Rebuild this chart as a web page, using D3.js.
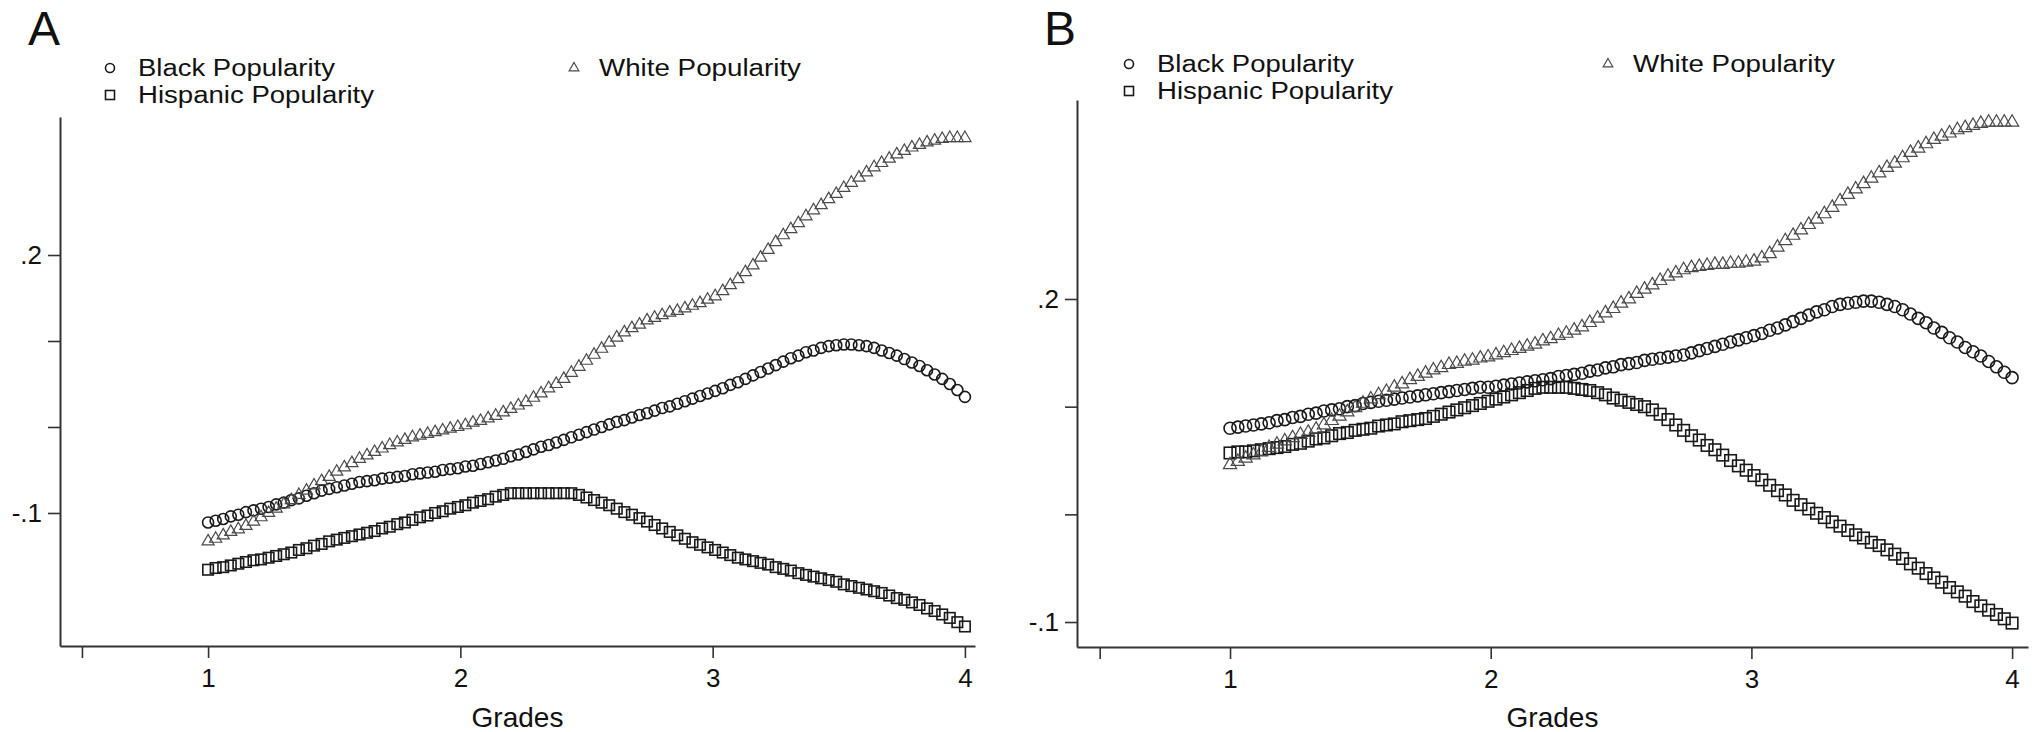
<!DOCTYPE html>
<html>
<head>
<meta charset="utf-8">
<script src="https://cdn.jsdelivr.net/npm/d3@7"></script>
<style>
  body { margin: 0; background: #fff; }
  svg { display: block; }
  text { font-family: "Liberation Sans", Arial, Helvetica, sans-serif; fill: #111; }
</style>
</head>
<body>
<svg id="chart" width="2036" height="732"></svg>
<script>
// Grade values at which each popularity curve is evaluated
const grades = [
  1.00,1.03,1.06,1.09,1.12,1.15,1.18,1.21,1.24,1.27,
  1.30,1.33,1.36,1.39,1.42,1.45,1.48,1.51,1.54,1.57,
  1.60,1.63,1.66,1.69,1.72,1.75,1.78,1.81,1.84,1.87,
  1.90,1.93,1.96,1.99,2.02,2.05,2.08,2.11,2.14,2.17,
  2.20,2.23,2.26,2.29,2.32,2.35,2.38,2.41,2.44,2.47,
  2.50,2.53,2.56,2.59,2.62,2.65,2.68,2.71,2.74,2.77,
  2.80,2.83,2.86,2.89,2.92,2.95,2.98,3.01,3.04,3.07,
  3.10,3.13,3.16,3.19,3.22,3.25,3.28,3.31,3.34,3.37,
  3.40,3.43,3.46,3.49,3.52,3.55,3.58,3.61,3.64,3.67,
  3.70,3.73,3.76,3.79,3.82,3.85,3.88,3.91,3.94,3.97,
  4.00
];

// Panel A
const blackA = [
  -0.111,-0.109,-0.107,-0.104,-0.102,-0.099,-0.097,-0.095,-0.093,-0.090,
  -0.088,-0.085,-0.083,-0.080,-0.077,-0.074,-0.072,-0.070,-0.068,-0.066,
  -0.064,-0.063,-0.062,-0.060,-0.059,-0.058,-0.057,-0.055,-0.054,-0.053,
  -0.052,-0.050,-0.049,-0.048,-0.046,-0.045,-0.043,-0.041,-0.039,-0.037,
  -0.034,-0.032,-0.029,-0.026,-0.023,-0.021,-0.018,-0.015,-0.012,-0.009,
  -0.006,-0.003,0.000,0.003,0.006,0.008,0.011,0.014,0.016,0.019,
  0.022,0.024,0.027,0.030,0.033,0.036,0.039,0.042,0.045,0.049,
  0.052,0.056,0.060,0.064,0.068,0.072,0.076,0.080,0.083,0.087,
  0.089,0.092,0.094,0.095,0.096,0.096,0.095,0.094,0.092,0.089,
  0.086,0.083,0.079,0.075,0.071,0.066,0.061,0.056,0.050,0.043,
  0.035
];
const hispanicA = [
  -0.166,-0.164,-0.163,-0.161,-0.159,-0.157,-0.155,-0.154,-0.152,-0.150,
  -0.148,-0.146,-0.143,-0.141,-0.138,-0.136,-0.133,-0.131,-0.129,-0.127,
  -0.125,-0.123,-0.121,-0.118,-0.116,-0.113,-0.111,-0.108,-0.105,-0.103,
  -0.100,-0.098,-0.095,-0.093,-0.091,-0.088,-0.086,-0.084,-0.081,-0.079,
  -0.077,-0.077,-0.077,-0.077,-0.077,-0.077,-0.077,-0.077,-0.077,-0.079,
  -0.082,-0.085,-0.088,-0.091,-0.095,-0.099,-0.102,-0.106,-0.110,-0.114,
  -0.118,-0.122,-0.126,-0.130,-0.134,-0.137,-0.140,-0.143,-0.146,-0.149,
  -0.152,-0.154,-0.156,-0.158,-0.160,-0.163,-0.165,-0.167,-0.170,-0.172,
  -0.174,-0.176,-0.178,-0.180,-0.183,-0.185,-0.187,-0.189,-0.191,-0.193,
  -0.196,-0.199,-0.201,-0.204,-0.207,-0.211,-0.214,-0.218,-0.222,-0.227,
  -0.232
];
const whiteA = [
  -0.133,-0.130,-0.126,-0.122,-0.119,-0.115,-0.110,-0.105,-0.100,-0.095,
  -0.090,-0.085,-0.079,-0.074,-0.068,-0.063,-0.058,-0.052,-0.047,-0.042,
  -0.037,-0.033,-0.029,-0.025,-0.021,-0.018,-0.015,-0.012,-0.010,-0.008,
  -0.006,-0.004,-0.002,0.000,0.002,0.005,0.007,0.010,0.013,0.017,
  0.021,0.025,0.029,0.034,0.039,0.045,0.050,0.056,0.063,0.070,
  0.077,0.084,0.091,0.098,0.104,0.110,0.115,0.119,0.124,0.127,
  0.130,0.133,0.135,0.138,0.141,0.144,0.148,0.152,0.158,0.165,
  0.172,0.180,0.188,0.197,0.206,0.215,0.223,0.230,0.237,0.245,
  0.252,0.258,0.265,0.271,0.278,0.284,0.290,0.296,0.302,0.307,
  0.312,0.317,0.321,0.325,0.328,0.331,0.333,0.335,0.336,0.336,
  0.336
];

// Panel B
const blackB = [
  0.080,0.081,0.082,0.083,0.084,0.085,0.087,0.088,0.090,0.091,
  0.093,0.094,0.096,0.097,0.098,0.100,0.101,0.103,0.104,0.105,
  0.106,0.107,0.108,0.109,0.110,0.111,0.112,0.113,0.114,0.115,
  0.116,0.117,0.118,0.118,0.119,0.120,0.121,0.122,0.123,0.124,
  0.125,0.126,0.128,0.129,0.130,0.131,0.133,0.134,0.136,0.137,
  0.139,0.140,0.141,0.143,0.144,0.145,0.146,0.147,0.148,0.150,
  0.152,0.154,0.156,0.158,0.160,0.162,0.164,0.166,0.168,0.171,
  0.173,0.176,0.179,0.182,0.185,0.188,0.190,0.193,0.195,0.196,
  0.197,0.198,0.198,0.197,0.195,0.193,0.190,0.186,0.182,0.178,
  0.173,0.169,0.164,0.160,0.155,0.151,0.147,0.142,0.137,0.132,
  0.127
];
const hispanicB = [
  0.057,0.058,0.058,0.059,0.060,0.061,0.062,0.063,0.065,0.066,
  0.068,0.070,0.071,0.073,0.075,0.076,0.078,0.079,0.080,0.082,
  0.083,0.084,0.086,0.087,0.088,0.089,0.091,0.093,0.095,0.097,
  0.099,0.101,0.103,0.105,0.107,0.109,0.111,0.113,0.115,0.117,
  0.118,0.118,0.118,0.118,0.117,0.116,0.115,0.113,0.111,0.108,
  0.106,0.104,0.102,0.100,0.097,0.093,0.088,0.083,0.078,0.073,
  0.069,0.064,0.060,0.055,0.050,0.045,0.041,0.036,0.032,0.027,
  0.022,0.018,0.013,0.009,0.005,0.001,-0.003,-0.007,-0.011,-0.015,
  -0.019,-0.022,-0.026,-0.029,-0.033,-0.037,-0.041,-0.046,-0.050,-0.055,
  -0.059,-0.063,-0.068,-0.072,-0.076,-0.081,-0.085,-0.089,-0.093,-0.097,
  -0.101
];
const whiteB = [
  0.046,0.049,0.052,0.055,0.058,0.062,0.065,0.068,0.071,0.074,
  0.076,0.079,0.083,0.087,0.091,0.095,0.099,0.103,0.107,0.111,
  0.114,0.118,0.121,0.125,0.128,0.131,0.134,0.136,0.139,0.140,
  0.142,0.143,0.145,0.146,0.148,0.150,0.152,0.154,0.156,0.158,
  0.161,0.163,0.166,0.168,0.171,0.174,0.178,0.182,0.187,0.191,
  0.196,0.200,0.205,0.209,0.213,0.217,0.221,0.224,0.227,0.229,
  0.230,0.231,0.232,0.232,0.233,0.233,0.234,0.235,0.238,0.242,
  0.248,0.254,0.259,0.264,0.269,0.274,0.279,0.285,0.291,0.297,
  0.302,0.307,0.312,0.317,0.322,0.326,0.331,0.336,0.340,0.344,
  0.348,0.351,0.354,0.357,0.359,0.361,0.363,0.364,0.364,0.364,
  0.364
];

const seriesNames = ["Black Popularity", "Hispanic Popularity", "White Popularity"];
const xTicks = [0.5, 1, 2, 3, 4];
const xTickLabels = ["", "1", "2", "3", "4"];
const yTicks = [-0.1, 0, 0.1, 0.2];
const yTickLabels = ["-.1", "", "", ".2"];
const xTitle = "Grades";

const svg = d3.select("#chart");

const panels = [
  {
    letter: "A", black: blackA, hispanic: hispanicA, white: whiteA,
    xDomain: [0.413, 4.04], xRange: [60, 975],
    yDomain: [-0.2547, 0.3605], yRange: [646, 117],
    letterX: 28, legendY: [68, 95], legendCol: [110, 574], markR: 5.5
  },
  {
    letter: "B", black: blackB, hispanic: hispanicB, white: whiteB,
    xDomain: [0.413, 4.061], xRange: [1077, 2028],
    yDomain: [-0.1232, 0.3848], yRange: [647, 100],
    letterX: 1044, legendY: [64, 91], legendCol: [1129, 1608], markR: 6
  }
];

// legend label widths (the type is set slightly wide)
const legendWidths = [197, 236, 202];

const ink = "#1a1a1a";
const triInk = "#4a4a4a";

function drawCircle(g, cx, cy, r) {
  g.append("circle").attr("cx", cx).attr("cy", cy).attr("r", r)
    .attr("fill", "none").attr("stroke", ink).attr("stroke-width", 1.6);
}
function drawSquare(g, cx, cy, s) {
  g.append("rect").attr("x", cx - s / 2).attr("y", cy - s / 2)
    .attr("width", s).attr("height", s)
    .attr("fill", "none").attr("stroke", ink).attr("stroke-width", 1.6);
}
function drawTriangle(g, cx, cy, area) {
  g.append("path").attr("d", d3.symbol(d3.symbolTriangle, area)())
    .attr("transform", `translate(${cx},${cy})`)
    .attr("fill", "none").attr("stroke", triInk).attr("stroke-width", 1.2);
}

panels.forEach(p => {
  const x = d3.scaleLinear().domain(p.xDomain).range(p.xRange);
  const y = d3.scaleLinear().domain(p.yDomain).range(p.yRange);
  const g = svg.append("g");

  // axes
  const yAxis = d3.axisLeft(y).tickValues(yTicks)
    .tickFormat((d, i) => yTickLabels[i]).tickSize(12).tickSizeOuter(0).tickPadding(6);
  const xAxis = d3.axisBottom(x).tickValues(xTicks)
    .tickFormat((d, i) => xTickLabels[i]).tickSize(12).tickSizeOuter(0).tickPadding(11);

  const ya = g.append("g").attr("transform", `translate(${p.xRange[0]},0)`).call(yAxis);
  const xa = g.append("g").attr("transform", `translate(0,${p.yRange[0]})`).call(xAxis);
  [ya, xa].forEach(a => {
    a.select(".domain").attr("stroke", "#333").attr("stroke-width", 2);
    a.selectAll(".tick line").attr("stroke", "#333").attr("stroke-width", 1.6);
    a.selectAll(".tick text").attr("font-size", 26).attr("fill", "#111")
      .attr("font-family", "Liberation Sans, Arial, sans-serif");
  });

  g.append("text").attr("x", (p.xRange[0] + p.xRange[1]) / 2).attr("y", 727)
    .attr("text-anchor", "middle").attr("font-size", 28).text(xTitle);

  // panel letter
  g.append("text").attr("x", p.letterX).attr("y", 45)
    .attr("font-size", 48).text(p.letter);

  // markers
  const marks = g.append("g");
  grades.forEach((gr, i) => drawCircle(marks, x(gr), y(p.black[i]), p.markR));
  grades.forEach((gr, i) => drawSquare(marks, x(gr), y(p.hispanic[i]), p.markR * 2 - 0.5));
  grades.forEach((gr, i) => drawTriangle(marks, x(gr), y(p.white[i]), p.markR * p.markR * 2.1));

  // legend
  const lg = g.append("g");
  drawCircle(lg, p.legendCol[0], p.legendY[0], 4.5);
  drawSquare(lg, p.legendCol[0], p.legendY[1], 9);
  drawTriangle(lg, p.legendCol[1], p.legendY[0], 40);
  const labels = [
    [p.legendCol[0] + 28, p.legendY[0], seriesNames[0], legendWidths[0]],
    [p.legendCol[0] + 28, p.legendY[1], seriesNames[1], legendWidths[1]],
    [p.legendCol[1] + 25, p.legendY[0], seriesNames[2], legendWidths[2]]
  ];
  labels.forEach(([lx, ly, t, w]) => {
    lg.append("text").attr("x", lx).attr("y", ly).attr("dy", "0.35em")
      .attr("font-size", 23)
      .attr("textLength", w).attr("lengthAdjust", "spacingAndGlyphs")
      .text(t);
  });
});
</script>
</body>
</html>
